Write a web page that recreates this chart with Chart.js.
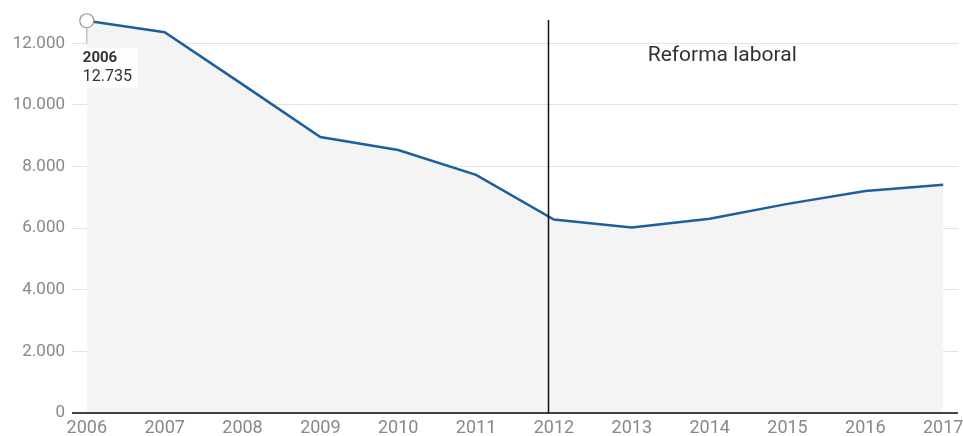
<!DOCTYPE html>
<html>
<head>
<meta charset="utf-8">
<script src="https://cdn.jsdelivr.net/npm/chart.js@4"></script>
<style>
  html, body { margin: 0; padding: 0; background: #fff; }
  #wrap { width: 963px; height: 436px; }
</style>
</head>
<body>
<div id="wrap"><canvas id="chart" width="963" height="436"></canvas></div>
<script>
const years = [2006, 2007, 2008, 2009, 2010, 2011, 2012, 2013, 2014, 2015, 2016, 2017];
const values = [12735, 12360, 10670, 8960, 8540, 7730, 6280, 6020, 6310, 6790, 7210, 7410];
const yTicks = [0, 2000, 4000, 6000, 8000, 10000, 12000];
const markerYear = 2011.92;
const markerText = 'Reforma laboral';

const fmtNum = v => String(v).replace(/\B(?=(\d{3})+(?!\d))/g, '.');

// custom drawings: zero line, reform line, label and first point tooltip
const extras = {
  id: 'extras',
  afterDatasetsDraw(chart) {
    const ctx = chart.ctx, x = chart.scales.x, y = chart.scales.y;
    const area = chart.chartArea;
    ctx.save();
    // zero axis line
    ctx.strokeStyle = '#444';
    ctx.lineWidth = 2;
    ctx.beginPath();
    ctx.moveTo(area.left, y.getPixelForValue(0));
    ctx.lineTo(area.right, y.getPixelForValue(0));
    ctx.stroke();

    // vertical reform line
    const mx = Math.round(x.getPixelForValue(markerYear)) + 0.5;
    ctx.strokeStyle = '#111';
    ctx.lineWidth = 1.5;
    ctx.beginPath();
    ctx.moveTo(mx, 20);
    ctx.lineTo(mx, y.getPixelForValue(0));
    ctx.stroke();

    ctx.fillStyle = '#333';
    ctx.font = '21px Roboto';
    ctx.textAlign = 'center';
    ctx.textBaseline = 'middle';
    ctx.fillText(markerText, x.getPixelForValue(2014.2) - 3, 56);

    // first point tooltip
    const px = x.getPixelForValue(years[0]);
    const py = y.getPixelForValue(values[0]);
    ctx.strokeStyle = '#aaa';
    ctx.lineWidth = 1;
    ctx.beginPath();
    ctx.moveTo(px, py + 7);
    ctx.lineTo(px, py + 23);
    ctx.stroke();
    ctx.fillStyle = 'rgba(255,255,255,0.9)';
    ctx.fillRect(px - 5, py + 27, 56, 40);
    ctx.textAlign = 'left';
    ctx.fillStyle = '#333';
    ctx.font = 'bold 15px Roboto';
    ctx.fillText(String(years[0]), px - 4, py + 38);
    ctx.font = '16px Roboto';
    ctx.fillText(fmtNum(values[0]), px - 4, py + 56);
    ctx.fillStyle = '#fff';
    ctx.strokeStyle = '#999';
    ctx.lineWidth = 1.2;
    ctx.beginPath();
    ctx.arc(px, py, 7, 0, Math.PI * 2);
    ctx.fill();
    ctx.stroke();
    ctx.restore();
  }
};

new Chart(document.getElementById('chart'), {
  type: 'line',
  data: {
    datasets: [{
      data: years.map((yr, i) => ({ x: yr, y: values[i] })),
      borderColor: '#1d5f9d',
      borderWidth: 2.5,
      backgroundColor: '#f4f4f4',
      fill: 'origin',
      pointRadius: 0,
      tension: 0,
      clip: false
    }]
  },
  options: {
    responsive: false,
    animation: false,
    layout: { padding: { right: 5, top: 0, bottom: 0, left: 0 } },
    plugins: { legend: { display: false }, tooltip: { enabled: false } },
    scales: {
      x: {
        type: 'linear',
        min: 2005.81,
        max: 2017.19,
        afterBuildTicks: s => { s.ticks = years.map(v => ({ value: v })); },
        afterFit: s => { s.height = 23; s.paddingLeft = 0; s.paddingRight = 0; },
        grid: { display: false, drawTicks: false },
        border: { display: false },
        ticks: {
          color: '#888',
          font: { family: 'Roboto', size: 18 },
          padding: 5,
          maxRotation: 0,
          autoSkip: false,
          callback: v => String(v)
        }
      },
      y: {
        min: 0,
        max: 12850,
        afterBuildTicks: s => { s.ticks = yTicks.map(v => ({ value: v })); },
        afterFit: s => { s.width = 72; },
        grid: { color: '#e2e2e2', lineWidth: 1, drawTicks: false },
        border: { display: false },
        ticks: {
          color: '#888',
          font: { family: 'Roboto', size: 17 },
          padding: 7,
          callback: v => fmtNum(v)
        }
      }
    }
  },
  plugins: [extras]
});
</script>
</body>
</html>
